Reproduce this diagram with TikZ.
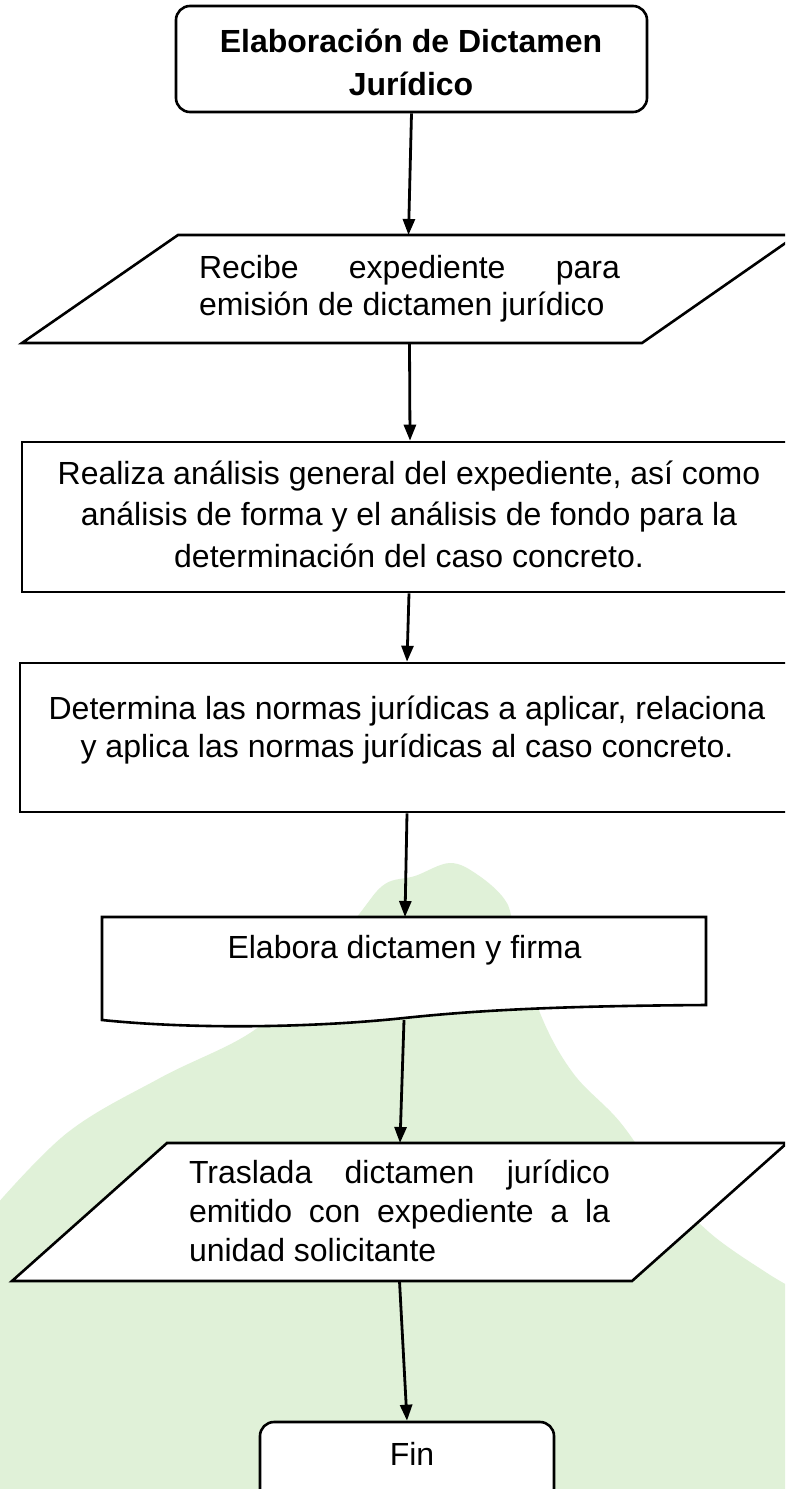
\documentclass[tikz,border=0pt]{standalone}
\usepackage{fontspec}
\setmainfont{Liberation Sans}
\usetikzlibrary{arrows.meta}
\definecolor{bggreen}{RGB}{224,241,216}
\newcommand\ctrlines[1]{\vtop{\halign{\hfil##\hfil\cr#1\crcr}}}
\begin{document}
\begin{tikzpicture}[x=1pt,y=-1pt,
  outline/.style={draw=black, line width=2.6pt, fill=white, line join=miter},
  roundbox/.style={outline, rounded corners=14pt, inner sep=0pt},
  plainbox/.style={outline, inner sep=0pt},
  holder/.style={rectangle, inner sep=0pt, outer sep=0pt},
  txt/.style={inner sep=0pt, outer sep=0pt},
  arr/.style={draw=black, line width=2.8pt, -{Triangle[length=16pt,width=12pt]}},
]
\useasboundingbox (0,0) rectangle (785,1489);
\clip (0,0) rectangle (785,1489);
\fill[white] (0,0) rectangle (785,1489);

% background shape
\fill[bggreen] plot[smooth, tension=0.6] coordinates {
 (-10,1212) (67,1133) (160,1078) (250,1033) (310,980)
 (360,913) (385,884) (415,876) (450,863)
 (478,875) (505,900) (515,930) (540,1013)
 (573,1073) (620,1122) (665,1185) (710,1233)
 (767,1273) (800,1292)} -- (800,1500) -- (-10,1500) -- cycle;

% shapes
\node[roundbox, minimum width=471pt, minimum height=106pt] (start) at (411.5,59) {};

\node[holder, minimum width=775pt, minimum height=108pt] (p1) at (409.5,289) {};
\draw[outline] ([xshift=156pt]p1.north west) -- (p1.north east)
  -- ([xshift=-155pt]p1.south east) -- (p1.south west) -- cycle;

\node[plainbox, minimum width=778pt, minimum height=150pt] (r2) at (411,517) {};
\node[plainbox, minimum width=780pt, minimum height=149pt] (r3) at (410,737.5) {};

\node[holder, minimum width=604pt, minimum height=103pt] (doc) at (404,968.5) {};
\draw[outline] (doc.south west) -- (doc.north west) -- (doc.north east)
  -- ([yshift=15pt]doc.south east)
  .. controls (560,1006) and (480,1010) .. (404,1018)
  .. controls (320,1027) and (200,1030) .. (doc.south west) -- cycle;

\node[holder, minimum width=775pt, minimum height=138pt] (p2) at (399.5,1212) {};
\draw[outline] ([xshift=155pt]p2.north west) -- (p2.north east)
  -- ([xshift=-155pt]p2.south east) -- (p2.south west) -- cycle;

\node[roundbox, minimum width=294pt, minimum height=86pt] (fin) at (407,1465) {};

% texts
\node[txt, anchor=base, font=\bfseries\fontsize{32}{43}\selectfont] (t0) at (411,52)
  {\ctrlines{Elaboración de Dictamen\cr Jurídico}};
\node[txt, anchor=base west, font=\fontsize{32}{37}\selectfont] (t1) at (199,278)
  {\vtop{\hbox to 421pt{Recibe\hfill expediente\hfill para}\hbox{emisión de dictamen jurídico}}};
\node[txt, anchor=base, font=\fontsize{32}{41.5}\selectfont] (t2) at (409,484)
  {\ctrlines{Realiza análisis general del expediente, así como\cr análisis de forma y el análisis de fondo para la\cr determinación del caso concreto.}};
\node[txt, anchor=base, font=\fontsize{32}{38}\selectfont] (t3) at (407,719)
  {\ctrlines{Determina las normas jurídicas a aplicar, relaciona\cr y aplica las normas jurídicas al caso concreto.}};
\node[txt, anchor=base, font=\fontsize{32}{38}\selectfont] (t4) at (404.5,958)
  {Elabora dictamen y firma};
\node[txt, anchor=base west, font=\fontsize{32}{39}\selectfont] (t5) at (189,1183)
  {\vtop{\hbox to 421pt{Traslada\hfill dictamen\hfill jurídico}\hbox to 421pt{emitido\hfill con\hfill expediente\hfill a\hfill la}\hbox{unidad solicitante}}};
\node[txt, anchor=base, font=\fontsize{32}{38}\selectfont] (t6) at (412,1465) {Fin};

% connectors
\draw[arr] (start.south) -- ([xshift=-1pt]p1.north);
\draw[arr] (p1.south) -- ([xshift=-1pt]r2.north);
\draw[arr] ([xshift=-2pt]r2.south) -- ([xshift=-3pt]r3.north);
\draw[arr] ([xshift=-3pt]r3.south) -- ([xshift=1pt]doc.north);
\draw[arr] (doc.south) -- ([xshift=0.5pt]p2.north);
\draw[arr] (p2.south) -- (fin.north);
\end{tikzpicture}
\end{document}
